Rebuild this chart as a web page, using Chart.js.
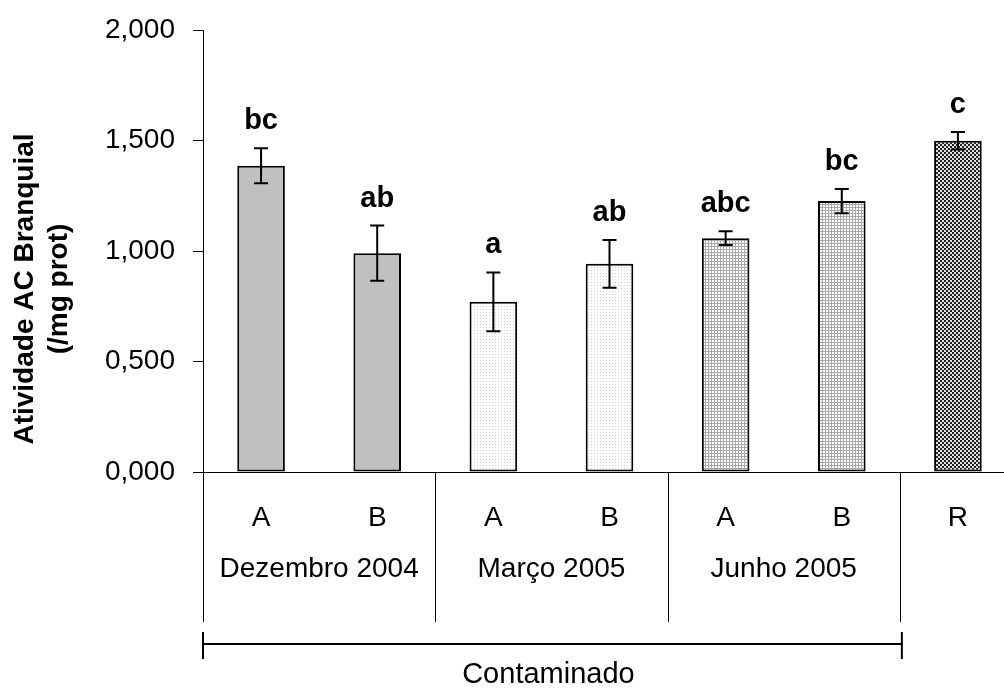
<!DOCTYPE html>
<html>
<head>
<meta charset="utf-8">
<script src="https://cdn.jsdelivr.net/npm/chart.js@4"></script>
<style>
  html, body { margin: 0; padding: 0; background: #fff; overflow: hidden; }
  #wrap { width: 1030px; height: 688px; }
</style>
</head>
<body>
<div id="wrap"><canvas id="barChart"></canvas></div>
<script>
// DATA
const categories = ["A", "B", "A", "B", "A", "B", "R"];
const groups = ["Dezembro 2004", "Março 2005", "Junho 2005"];
const groupSize = 2;
const bracketLabel = "Contaminado";
const values = [1.386, 0.990, 0.770, 0.942, 1.058, 1.226, 1.499];
const errors = [0.079, 0.125, 0.133, 0.108, 0.031, 0.055, 0.040];
const letters = ["bc", "ab", "a", "ab", "abc", "bc", "c"];
const yTicks = [0, 0.5, 1, 1.5, 2];
const yTitle = ["Atividade AC Branquial", "(/mg prot)"];

const FONT = "'Liberation Sans', Arial, sans-serif";

// fill patterns
function makePattern(size, draw) {
    const c = document.createElement("canvas");
    c.width = size; c.height = size;
    const g = c.getContext("2d");
    draw(g);
    return document.getElementById("barChart").getContext("2d").createPattern(c, "repeat");
}
const dotted = makePattern(3, g => {
    g.fillStyle = "#ffffff"; g.fillRect(0, 0, 3, 3);
    g.fillStyle = "#d0d0d0"; g.fillRect(0, 0, 1, 1);
});
const grid = makePattern(3, g => {
    g.fillStyle = "#ffffff"; g.fillRect(0, 0, 3, 3);
    g.fillStyle = "#a8a8a8"; g.fillRect(0, 0, 3, 1); g.fillRect(0, 0, 1, 3);
});
const checker = makePattern(4, g => {
    g.fillStyle = "#e0e0e0"; g.fillRect(0, 0, 4, 4);
    g.fillStyle = "#202020"; g.fillRect(0, 0, 2, 2); g.fillRect(2, 2, 2, 2);
});
const fills = ["#c0c0c0", "#c0c0c0", dotted, dotted, grid, grid, checker];

// error bars + letters
const errorBars = {
    id: "errorBars",
    afterDatasetsDraw(chart) {
        const ctx = chart.ctx;
        const y = chart.scales.y;
        const meta = chart.getDatasetMeta(0);
        ctx.save();
        ctx.strokeStyle = "#000";
        ctx.lineWidth = 2;
        meta.data.forEach((bar, i) => {
            const x = bar.x;
            const top = y.getPixelForValue(values[i] + errors[i]);
            const bot = y.getPixelForValue(values[i] - errors[i]);
            ctx.beginPath();
            ctx.moveTo(x, top); ctx.lineTo(x, bot);
            ctx.moveTo(x - 7, top); ctx.lineTo(x + 7, top);
            ctx.moveTo(x - 7, bot); ctx.lineTo(x + 7, bot);
            ctx.stroke();
            ctx.fillStyle = "#000";
            ctx.font = "bold 29px " + FONT;
            ctx.textAlign = "center";
            ctx.textBaseline = "alphabetic";
            ctx.fillText(letters[i], x, top - 19);
        });
        ctx.restore();
    }
};

// group separators, group labels, bracket, y title
const decorations = {
    id: "decorations",
    afterDraw(chart) {
        const ctx = chart.ctx;
        const x = chart.scales.x;
        const area = chart.chartArea;
        const half = (x.getPixelForValue(1) - x.getPixelForValue(0)) / 2;
        ctx.save();
        ctx.strokeStyle = "#000";
        ctx.fillStyle = "#000";
        ctx.lineWidth = 1;
        // separators
        for (let k = 0; k <= groups.length; k++) {
            const px = Math.round(x.getPixelForValue(k * groupSize) - half) + 0.5;
            ctx.beginPath();
            ctx.moveTo(px, area.bottom);
            ctx.lineTo(px, 622);
            ctx.stroke();
        }
        // group labels
        ctx.font = "28px " + FONT;
        ctx.textAlign = "center";
        ctx.textBaseline = "middle";
        groups.forEach((g, k) => {
            const cx = (x.getPixelForValue(k * groupSize) + x.getPixelForValue(k * groupSize + groupSize - 1)) / 2;
            ctx.fillText(g, cx, 569);
        });
        // bracket
        const bx0 = x.getPixelForValue(0) - half;
        const bx1 = x.getPixelForValue(groups.length * groupSize) - half + 2;
        ctx.lineWidth = 2;
        ctx.beginPath();
        ctx.moveTo(bx0, 644); ctx.lineTo(bx1, 644);
        ctx.moveTo(bx0, 632); ctx.lineTo(bx0, 659);
        ctx.moveTo(bx1, 632); ctx.lineTo(bx1, 659);
        ctx.stroke();
        ctx.font = "29px " + FONT;
        ctx.fillText(bracketLabel, (bx0 + bx1) / 2 - 4, 675);
        // y axis title
        ctx.font = "bold 28px " + FONT;
        ctx.textBaseline = "alphabetic";
        [33, 67].forEach((bx, i) => {
            ctx.save();
            ctx.translate(bx, 289);
            ctx.rotate(-Math.PI / 2);
            ctx.fillText(yTitle[i], 0, 0);
            ctx.restore();
        });
        ctx.restore();
    }
};

new Chart(document.getElementById("barChart"), {
    type: "bar",
    data: {
        labels: categories,
        datasets: [{
            data: values,
            backgroundColor: fills,
            borderColor: "#000",
            borderWidth: 2,
            borderSkipped: false,
            barPercentage: 0.41,
            categoryPercentage: 1
        }]
    },
    options: {
        responsive: true,
        maintainAspectRatio: false,
        animation: false,
        layout: { padding: { top: 30, right: 14, left: 0, bottom: 0 } },
        plugins: {
            legend: { display: false },
            tooltip: { enabled: false }
        },
        scales: {
            x: {
                grid: { display: false },
                border: { display: true, color: "#000", width: 1 },
                ticks: { color: "#000", font: { family: FONT, size: 28 }, padding: 21, maxRotation: 0 },
                afterFit(scale) { scale.height = 216; scale.paddingLeft = 0; scale.paddingRight = 0; }
            },
            y: {
                min: 0,
                max: 2,
                afterBuildTicks(scale) { scale.ticks = yTicks.map(v => ({ value: v })); },
                grid: { drawOnChartArea: false, drawTicks: true, tickLength: 10, color: "#000" },
                border: { display: true, color: "#000", width: 1 },
                ticks: {
                    color: "#000",
                    font: { family: FONT, size: 28 },
                    padding: 18,
                    callback: v => v.toFixed(3).replace(".", ",")
                },
                afterFit(scale) { scale.width = 203; scale.paddingTop = 0; scale.paddingBottom = 0; }
            }
        }
    },
    plugins: [errorBars, decorations]
});
</script>
</body>
</html>
